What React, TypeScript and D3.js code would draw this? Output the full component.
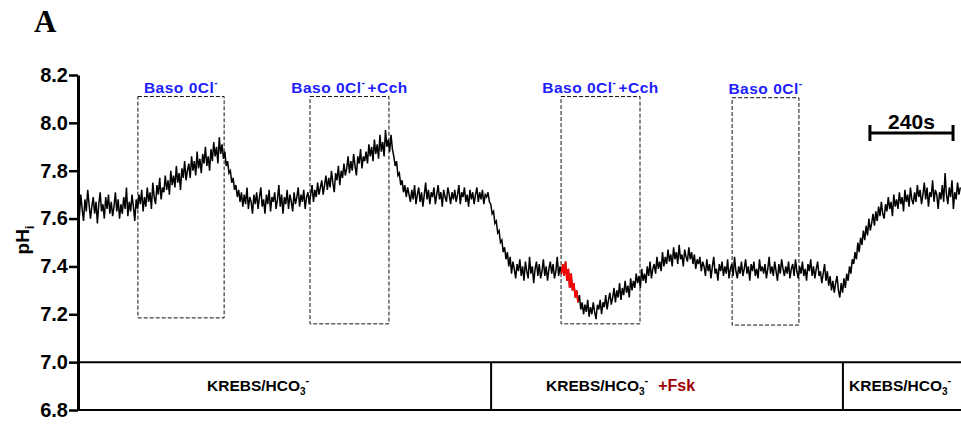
import React, { useRef, useEffect } from "react";
import * as d3 from "d3";

// pH trace, one sample every 4 s
const sampleStep = 4;
const phTrace = [
  7.67, 7.61, 7.70, 7.64, 7.59, 7.68, 7.63, 7.72, 7.66, 7.60, 7.65, 7.69, 7.62, 7.67, 7.58, 7.66,
  7.71, 7.63, 7.66, 7.60, 7.69, 7.64, 7.70, 7.62, 7.67, 7.61, 7.65, 7.71, 7.63, 7.68, 7.60, 7.66,
  7.62, 7.69, 7.64, 7.73, 7.61, 7.67, 7.63, 7.70, 7.65, 7.59, 7.68, 7.64, 7.70, 7.66, 7.72, 7.63,
  7.69, 7.65, 7.73, 7.67, 7.71, 7.64, 7.75, 7.69, 7.66, 7.74, 7.70, 7.77, 7.68, 7.73, 7.71, 7.78,
  7.72, 7.76, 7.70, 7.80, 7.74, 7.78, 7.73, 7.82, 7.75, 7.79, 7.72, 7.81, 7.77, 7.84, 7.76, 7.80,
  7.83, 7.77, 7.86, 7.80, 7.84, 7.78, 7.88, 7.81, 7.85, 7.79, 7.87, 7.83, 7.90, 7.82, 7.86, 7.80,
  7.89, 7.84, 7.92, 7.86, 7.90, 7.83, 7.94, 7.87, 7.91, 7.85, 7.88, 7.82, 7.84, 7.79, 7.80, 7.75,
  7.77, 7.72, 7.74, 7.69, 7.72, 7.67, 7.71, 7.65, 7.70, 7.66, 7.73, 7.64, 7.69, 7.67, 7.62, 7.70,
  7.66, 7.71, 7.64, 7.69, 7.73, 7.65, 7.68, 7.62, 7.70, 7.66, 7.72, 7.63, 7.69, 7.67, 7.71, 7.64,
  7.68, 7.74, 7.65, 7.70, 7.62, 7.69, 7.66, 7.72, 7.64, 7.70, 7.67, 7.63, 7.71, 7.66, 7.69, 7.73,
  7.65, 7.70, 7.67, 7.72, 7.64, 7.69, 7.71, 7.66, 7.70, 7.74, 7.67, 7.72, 7.69, 7.75, 7.70, 7.73,
  7.76, 7.70, 7.74, 7.78, 7.72, 7.77, 7.73, 7.80, 7.75, 7.71, 7.79, 7.76, 7.82, 7.74, 7.80, 7.77,
  7.83, 7.78, 7.81, 7.86, 7.79, 7.84, 7.80, 7.87, 7.82, 7.78, 7.86, 7.83, 7.89, 7.81, 7.86, 7.84,
  7.88, 7.83, 7.91, 7.86, 7.90, 7.84, 7.93, 7.87, 7.91, 7.85, 7.95, 7.88, 7.92, 7.86, 7.97, 7.90,
  7.93, 7.88, 7.95, 7.89, 7.86, 7.82, 7.84, 7.78, 7.79, 7.74, 7.76, 7.71, 7.74, 7.69, 7.73, 7.70,
  7.67, 7.72, 7.68, 7.74, 7.66, 7.70, 7.73, 7.67, 7.71, 7.65, 7.70, 7.75, 7.68, 7.72, 7.66, 7.71,
  7.69, 7.73, 7.66, 7.70, 7.74, 7.68, 7.71, 7.65, 7.72, 7.69, 7.67, 7.73, 7.70, 7.66, 7.71, 7.68,
  7.72, 7.67, 7.70, 7.74, 7.66, 7.71, 7.69, 7.73, 7.67, 7.70, 7.65, 7.72, 7.68, 7.71, 7.66, 7.70,
  7.73, 7.67, 7.71, 7.68, 7.72, 7.66, 7.70, 7.69, 7.71, 7.67, 7.66, 7.62, 7.63, 7.58, 7.59, 7.54,
  7.55, 7.50, 7.51, 7.46, 7.48, 7.43, 7.46, 7.40, 7.44, 7.37, 7.42, 7.39, 7.35, 7.41, 7.38, 7.43,
  7.36, 7.40, 7.34, 7.42, 7.38, 7.35, 7.44, 7.37, 7.40, 7.33, 7.39, 7.42, 7.36, 7.41, 7.35, 7.38,
  7.43, 7.36, 7.40, 7.34, 7.39, 7.42, 7.37, 7.41, 7.35, 7.38, 7.44, 7.36, 7.40, 7.37, 7.41, 7.36,
  7.42, 7.34, 7.39, 7.31, 7.37, 7.30, 7.33, 7.27, 7.30, 7.25, 7.28, 7.22, 7.25, 7.20, 7.24, 7.21,
  7.26, 7.19, 7.23, 7.20, 7.25, 7.21, 7.18, 7.24, 7.22, 7.26, 7.20, 7.25, 7.23, 7.28, 7.22, 7.26,
  7.29, 7.24, 7.27, 7.31, 7.25, 7.30, 7.27, 7.33, 7.26, 7.31, 7.28, 7.34, 7.29, 7.32, 7.27, 7.35,
  7.30, 7.34, 7.31, 7.37, 7.33, 7.36, 7.31, 7.39, 7.34, 7.37, 7.33, 7.40, 7.36, 7.42, 7.35, 7.39,
  7.41, 7.37, 7.44, 7.39, 7.42, 7.38, 7.46, 7.40, 7.44, 7.41, 7.47, 7.42, 7.45, 7.40, 7.48, 7.43,
  7.46, 7.41, 7.49, 7.43, 7.45, 7.40, 7.47, 7.44, 7.42, 7.48, 7.43, 7.46, 7.41, 7.45, 7.39, 7.43,
  7.41, 7.44, 7.38, 7.42, 7.40, 7.36, 7.43, 7.38, 7.41, 7.35, 7.40, 7.44, 7.37, 7.39, 7.34, 7.41,
  7.38, 7.42, 7.36, 7.40, 7.37, 7.43, 7.35, 7.39, 7.41, 7.36, 7.44, 7.38, 7.35, 7.40, 7.37, 7.42,
  7.36, 7.39, 7.43, 7.37, 7.40, 7.34, 7.41, 7.38, 7.42, 7.36, 7.39, 7.35, 7.43, 7.38, 7.40, 7.37,
  7.41, 7.35, 7.39, 7.44, 7.37, 7.40, 7.36, 7.42, 7.38, 7.34, 7.41, 7.37, 7.43, 7.39, 7.36, 7.40,
  7.37, 7.42, 7.35, 7.39, 7.41, 7.36, 7.43, 7.38, 7.35, 7.40, 7.37, 7.42, 7.36, 7.39, 7.34, 7.41,
  7.38, 7.43, 7.36, 7.40, 7.35, 7.39, 7.42, 7.36, 7.38, 7.33, 7.37, 7.41, 7.34, 7.38, 7.32, 7.36,
  7.30, 7.34, 7.29, 7.33, 7.36, 7.30, 7.27, 7.33, 7.29, 7.35, 7.31, 7.37, 7.34, 7.40, 7.37, 7.43,
  7.41, 7.46, 7.43, 7.50, 7.46, 7.52, 7.49, 7.55, 7.51, 7.57, 7.53, 7.60, 7.55, 7.58, 7.62, 7.57,
  7.63, 7.59, 7.65, 7.61, 7.67, 7.62, 7.60, 7.66, 7.63, 7.69, 7.64, 7.67, 7.61, 7.70, 7.65, 7.68,
  7.64, 7.71, 7.66, 7.69, 7.63, 7.72, 7.67, 7.70, 7.65, 7.73, 7.68, 7.66, 7.71, 7.67, 7.74, 7.69,
  7.72, 7.66, 7.70, 7.75, 7.68, 7.73, 7.65, 7.71, 7.69, 7.76, 7.67, 7.72, 7.70, 7.64, 7.71, 7.68,
  7.74, 7.67, 7.79, 7.70, 7.66, 7.73, 7.69, 7.76, 7.64, 7.71, 7.68, 7.75, 7.70, 7.73,
];

// forskolin onset (red part of trace), seconds
const fskWindow = [1396, 1444];

// dashed boxes: [start s, end s], top and bottom in pH
const boxTimes = [[173, 422], [670, 898], [1395, 1623], [1889, 2082]];
const boxTops = [8.11, 8.11, 8.11, 8.105];
const boxBottoms = [7.185, 7.16, 7.16, 7.155];
const boxLabels = ["Baso 0Cl", "Baso 0Cl", "Baso 0Cl", "Baso 0Cl"];
const boxSuffix = ["", "+Cch", "+Cch", ""];

// solution bar
const solutionBreaks = [0, 1193, 2209, 2550];
const solutionLabelX = [207, 546, 849];
const solutionExtra = ["", "+Fsk", ""];

const yTicks = [6.8, 7.0, 7.2, 7.4, 7.6, 7.8, 8.0, 8.2];
const scaleBar = [2287, 2527];

const W = 961;
const H = 428;
const FONT = "Arial, 'Liberation Sans', Helvetica, sans-serif";

export default function App() {
  const svgRef = useRef(null);

  useEffect(() => {
    const svg = d3.select(svgRef.current);
    svg.selectAll("*").remove();

    const x = d3.scaleLinear().domain([0, 2550]).range([78, 961]);
    const y = d3.scaleLinear().domain([6.8, 8.2]).range([410, 75]);

    const data = phTrace.map((v, i) => ({ t: i * sampleStep, v }));

    // panel letter
    svg.append("text")
      .attr("x", 34).attr("y", 32)
      .attr("font-family", "'Liberation Serif', 'Times New Roman', serif")
      .attr("font-weight", "bold").attr("font-size", 31)
      .text("A");

    // y axis
    const ax = svg.append("g")
      .attr("transform", "translate(78,0)")
      .call(d3.axisLeft(y).tickValues(yTicks).tickFormat(d3.format(".1f")).tickSize(9).tickSizeOuter(0));
    ax.select(".domain").attr("stroke", "#000").attr("stroke-width", 3);
    ax.selectAll(".tick line").attr("stroke", "#000").attr("stroke-width", 2.5);
    ax.selectAll(".tick text")
      .attr("font-family", FONT).attr("font-weight", "bold")
      .attr("font-size", 20).attr("fill", "#000").attr("x", -10);

    const yl = svg.append("text")
      .attr("transform", "translate(29,240) rotate(-90)")
      .attr("text-anchor", "middle")
      .attr("font-family", FONT).attr("font-weight", "bold").attr("font-size", 19);
    yl.append("tspan").text("pH");
    yl.append("tspan").attr("font-size", 13).attr("dy", 5).text("i");

    // solution bar
    [7.0, 6.8].forEach((v) => {
      svg.append("line")
        .attr("x1", 78).attr("x2", 961)
        .attr("y1", y(v)).attr("y2", y(v))
        .attr("stroke", "#000").attr("stroke-width", 2);
    });
    solutionBreaks.slice(1, -1).forEach((t) => {
      svg.append("line")
        .attr("x1", x(t)).attr("x2", x(t))
        .attr("y1", y(7.0)).attr("y2", y(6.8))
        .attr("stroke", "#000").attr("stroke-width", 2);
    });
    solutionExtra.forEach((extra, i) => {
      const tx = svg.append("text")
        .attr("x", solutionLabelX[i]).attr("y", 391)
        .attr("font-family", FONT).attr("font-weight", "bold").attr("font-size", 15.5);
      tx.append("tspan").text("KREBS/HCO");
      tx.append("tspan").attr("font-size", 10).attr("dy", 4).text("3");
      tx.append("tspan").attr("font-size", 11).attr("dy", -11).text("-");
      if (extra) {
        tx.append("tspan").attr("dy", 7).attr("dx", 10)
          .attr("fill", "#a00000").attr("font-size", 16).text(extra);
      }
    });

    // dashed boxes + labels
    boxTimes.forEach(([t0, t1], i) => {
      svg.append("rect")
        .attr("x", x(t0)).attr("y", y(boxTops[i]))
        .attr("width", x(t1) - x(t0))
        .attr("height", y(boxBottoms[i]) - y(boxTops[i]))
        .attr("fill", "none").attr("stroke", "#111")
        .attr("stroke-width", 1).attr("stroke-dasharray", "4,2");
      const lt = svg.append("text")
        .attr("x", (x(t0) + x(t1)) / 2).attr("y", y(boxTops[i]) - 4)
        .attr("text-anchor", "middle").attr("fill", "#2020ff")
        .attr("letter-spacing", 0.5)
        .attr("font-family", FONT).attr("font-weight", "bold").attr("font-size", 15.5);
      lt.append("tspan").text(boxLabels[i]);
      lt.append("tspan").attr("font-size", 10).attr("dy", -7).text("-");
      if (boxSuffix[i]) lt.append("tspan").attr("dy", 7).attr("dx", 2).text(boxSuffix[i]);
    });

    // trace
    const line = d3.line<any>().x((d) => x(d.t)).y((d) => y(d.v));
    svg.append("path")
      .datum(data)
      .attr("d", line)
      .attr("fill", "none").attr("stroke", "#000").attr("stroke-width", 1.5);
    svg.append("path")
      .datum(data.filter((d) => d.t >= fskWindow[0] && d.t <= fskWindow[1]))
      .attr("d", line)
      .attr("fill", "none").attr("stroke", "#ff0000").attr("stroke-width", 1.7);

    // scale bar
    const sbY = 133;
    svg.append("line")
      .attr("x1", x(scaleBar[0])).attr("x2", x(scaleBar[1]))
      .attr("y1", sbY).attr("y2", sbY)
      .attr("stroke", "#000").attr("stroke-width", 3);
    scaleBar.forEach((t) => {
      svg.append("line")
        .attr("x1", x(t)).attr("x2", x(t))
        .attr("y1", sbY - 8).attr("y2", sbY + 8)
        .attr("stroke", "#000").attr("stroke-width", 3);
    });
    svg.append("text")
      .attr("x", (x(scaleBar[0]) + x(scaleBar[1])) / 2).attr("y", sbY - 4)
      .attr("text-anchor", "middle")
      .attr("font-family", FONT).attr("font-weight", "bold").attr("font-size", 21)
      .text("240s");
  }, []);

  return (
    <svg
      ref={svgRef}
      width={W}
      height={H}
      style={{ position: "absolute", left: 0, top: 0, background: "#fff" }}
    />
  );
}
